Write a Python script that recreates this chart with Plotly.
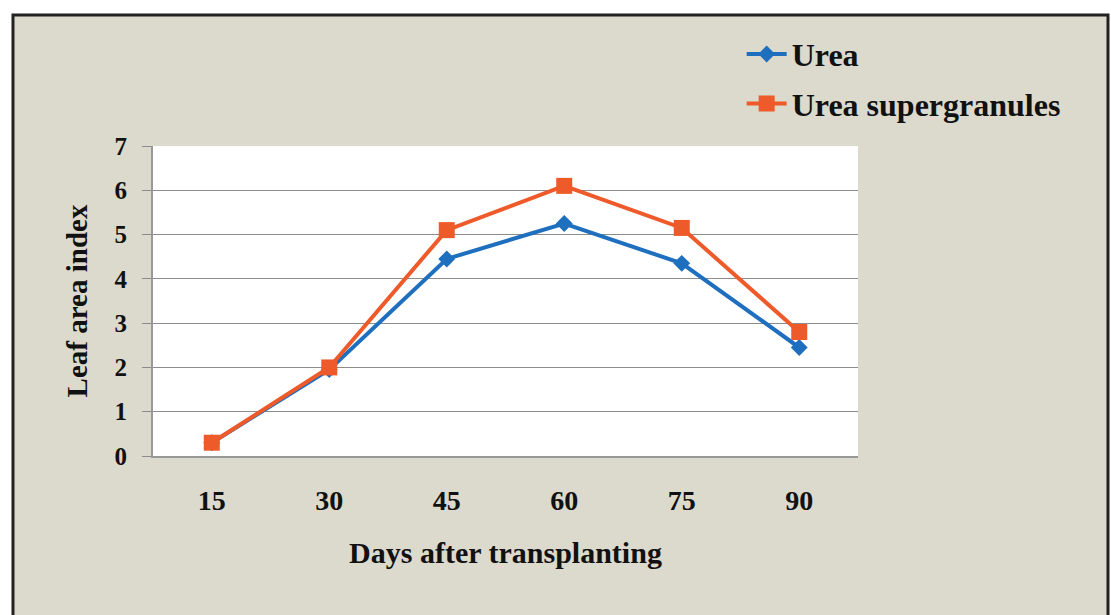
import plotly.graph_objects as go

DAYS = ["15", "30", "45", "60", "75", "90"]
UREA = [0.3, 1.95, 4.45, 5.25, 4.35, 2.45]
USG = [0.3, 2.0, 5.1, 6.1, 5.15, 2.8]

BLUE = "#1f6fbf"
ORANGE = "#ee5a2a"
BEIGE = "#dcd9cd"
FONT = "Liberation Serif"

fig = go.Figure()

fig.add_trace(go.Scatter(
    x=DAYS, y=UREA, name="<b>Urea</b>", mode="lines+markers",
    line=dict(color=BLUE, width=4),
    marker=dict(symbol="diamond", size=13, color=BLUE),
    legendgroup="a"
))
fig.add_trace(go.Scatter(
    x=DAYS, y=USG, name="<b>Urea supergranules</b>", mode="lines+markers",
    line=dict(color=ORANGE, width=4),
    marker=dict(symbol="square", size=16, color=ORANGE),
    legendgroup="b"
))

# beige panel with dark frame, then white plot area on top of it
fig.add_shape(
    type="rect", xref="paper", yref="paper",
    x0=-0.1986, x1=1.3546, y0=-0.53, y1=1.4226,
    fillcolor=BEIGE, line=dict(color="#222222", width=3), layer="below"
)
fig.add_shape(
    type="rect", xref="paper", yref="paper",
    x0=0, x1=1, y0=0, y1=1,
    fillcolor="white", line=dict(width=0), layer="below"
)

fig.update_layout(
    width=1111, height=615,
    margin=dict(l=153, r=253, t=146, b=159),
    paper_bgcolor="white",
    plot_bgcolor="white",
    font=dict(family=FONT, color="#111111", size=20),
    showlegend=True,
    legend=dict(
        x=0.835, y=1.385, xanchor="left", yanchor="top",
        bgcolor="rgba(0,0,0,0)", font=dict(size=32, family=FONT),
        traceorder="grouped", tracegroupgap=5, itemwidth=40
    ),
    xaxis=dict(
        type="category", range=[-0.5, 5.5],
        showgrid=False, showline=True, linecolor="#999999", linewidth=2,
        ticks="", ticklabelstandoff=18,
        tickfont=dict(size=28, family=FONT),
        tickvals=DAYS, ticktext=["<b>%s</b>" % d for d in DAYS],
        title=dict(text="<b>Days after transplanting</b>", font=dict(size=30, family=FONT), standoff=27)
    ),
    yaxis=dict(
        range=[0, 7], dtick=1,
        showgrid=True, gridcolor="#8c8c8c", gridwidth=1,
        showline=True, linecolor="#999999", linewidth=2,
        ticks="outside", ticklen=9, tickcolor="#8c8c8c",
        ticklabelstandoff=10,
        tickfont=dict(size=25, family=FONT),
        tickvals=list(range(8)), ticktext=["<b>%d</b>" % i for i in range(8)],
        title=dict(text="<b>Leaf area index</b>", font=dict(size=29, family=FONT), standoff=18),
        zeroline=False
    ),
)

fig.write_html("out.html", config={"displayModeBar": False},
               post_script="document.body.style.margin='0';")
